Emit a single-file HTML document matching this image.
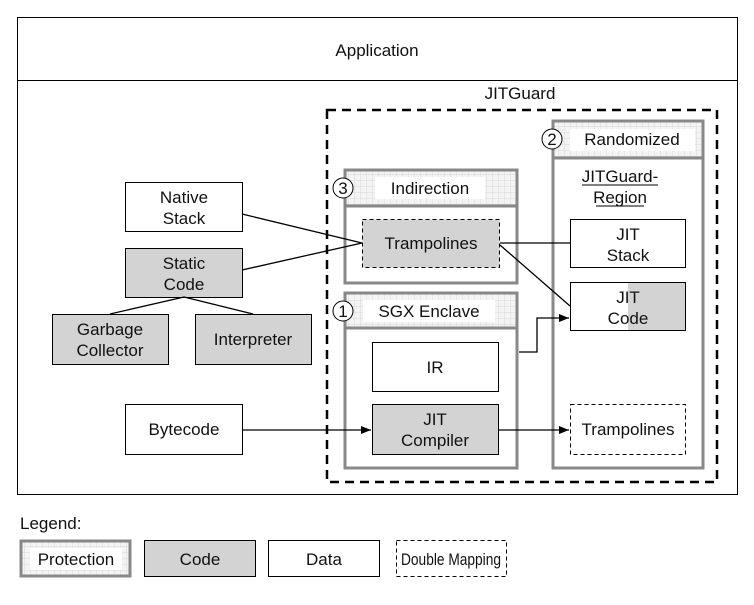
<!DOCTYPE html>
<html><head><style>body{margin:0;background:#fff}text{font-family:"Liberation Sans",sans-serif;font-size:17px;fill:#111}</style></head>
<body>
<svg width="754" height="600" viewBox="0 0 754 600" xmlns="http://www.w3.org/2000/svg">
<defs>
<pattern id="g" width="6" height="6" patternUnits="userSpaceOnUse"><rect width="6" height="6" fill="#f4f4f4"/><path d="M0 0H6M0 0V6" stroke="#d8d8d8" stroke-width="1"/></pattern>
<marker id="a" markerWidth="10" markerHeight="8" refX="10" refY="4" orient="auto" markerUnits="userSpaceOnUse"><path d="M0 0L10 4L0 8z" fill="#000"/></marker>
</defs>
<rect x="17.5" y="17.5" width="720" height="477" fill="#fff" stroke="#000"/>
<line x1="17" y1="80.5" x2="738" y2="80.5" stroke="#000"/>
<text x="377" y="56" text-anchor="middle">Application</text>
<text x="520" y="99" text-anchor="middle">JITGuard</text>
<rect x="327" y="110" width="390" height="372" fill="none" stroke="#000" stroke-width="2.5" stroke-dasharray="9,6"/>

<rect x="553" y="121" width="150" height="347" fill="#fff" stroke="#888" stroke-width="3"/>
<rect x="554.5" y="122.5" width="147" height="35" fill="url(#g)"/>
<line x1="553" y1="158" x2="703" y2="158" stroke="#888" stroke-width="3"/>
<rect x="570" y="129" width="125" height="22" fill="#fff"/>
<circle cx="552" cy="139" r="10" fill="#fff" stroke="#000"/><text x="552" y="145" text-anchor="middle">2</text>
<text x="632" y="145" text-anchor="middle">Randomized</text>
<text x="620" y="182" text-anchor="middle">JITGuard-</text>
<line x1="582" y1="185" x2="658" y2="185" stroke="#000"/>
<text x="620" y="203" text-anchor="middle">Region</text>
<line x1="596" y1="206" x2="644" y2="206" stroke="#000"/>
<rect x="570.5" y="219.5" width="115" height="48" fill="#fff" stroke="#000"/>
<text x="628" y="240" text-anchor="middle">JIT</text><text x="628" y="261" text-anchor="middle">Stack</text>
<rect x="570.5" y="282.5" width="115" height="48" fill="#fff" stroke="#000"/>
<rect x="628" y="283" width="57" height="47" fill="#d3d3d3"/>
<text x="628" y="303" text-anchor="middle">JIT</text><text x="628" y="324" text-anchor="middle">Code</text>
<rect x="570.5" y="404.5" width="115" height="50" fill="#fff" stroke="#000" stroke-dasharray="4,3"/>
<text x="628" y="435" text-anchor="middle">Trampolines</text>

<rect x="345" y="170" width="172" height="113" fill="#fff" stroke="#888" stroke-width="3"/>
<rect x="346.5" y="171.5" width="169" height="34" fill="url(#g)"/>
<line x1="345" y1="206" x2="517" y2="206" stroke="#888" stroke-width="3"/>
<rect x="375" y="177" width="110" height="22" fill="#fff"/>
<circle cx="343" cy="188" r="10" fill="#fff" stroke="#000"/><text x="343" y="194" text-anchor="middle">3</text>
<text x="430" y="194" text-anchor="middle">Indirection</text>
<rect x="362.5" y="219.5" width="137" height="48" fill="#d3d3d3" stroke="#000" stroke-dasharray="4,3"/>
<text x="431" y="249" text-anchor="middle">Trampolines</text>

<rect x="345" y="293" width="172" height="175" fill="#fff" stroke="#888" stroke-width="3"/>
<rect x="346.5" y="294.5" width="169" height="33" fill="url(#g)"/>
<line x1="345" y1="328" x2="517" y2="328" stroke="#888" stroke-width="3"/>
<rect x="363" y="300" width="132" height="22" fill="#fff"/>
<circle cx="343" cy="311" r="10" fill="#fff" stroke="#000"/><text x="343" y="317" text-anchor="middle">1</text>
<text x="429" y="317" text-anchor="middle">SGX Enclave</text>
<rect x="372.5" y="342.5" width="126" height="49" fill="#fff" stroke="#000"/>
<text x="435" y="373" text-anchor="middle">IR</text>
<rect x="372.5" y="404.5" width="126" height="50" fill="#d3d3d3" stroke="#000"/>
<text x="435" y="425" text-anchor="middle">JIT</text><text x="435" y="446" text-anchor="middle">Compiler</text>

<rect x="125.5" y="182.5" width="117" height="49" fill="#fff" stroke="#000"/>
<text x="184" y="203" text-anchor="middle">Native</text><text x="184" y="224" text-anchor="middle">Stack</text>
<rect x="125.5" y="248.5" width="117" height="49" fill="#d3d3d3" stroke="#000"/>
<text x="184" y="269" text-anchor="middle">Static</text><text x="184" y="290" text-anchor="middle">Code</text>
<rect x="52.5" y="314.5" width="116" height="50" fill="#d3d3d3" stroke="#000"/>
<text x="110" y="335" text-anchor="middle">Garbage</text><text x="110" y="356" text-anchor="middle">Collector</text>
<rect x="195.5" y="314.5" width="116" height="50" fill="#d3d3d3" stroke="#000"/>
<text x="253" y="345" text-anchor="middle">Interpreter</text>
<rect x="125.5" y="404.5" width="117" height="50" fill="#fff" stroke="#000"/>
<text x="184" y="435" text-anchor="middle">Bytecode</text>

<g stroke="#000" stroke-width="1.3" fill="none">
<path d="M242 214L362 243M242 270L362 243"/>
<path d="M184 297L110 314M184 297L253 314"/>
<path d="M242 430H371" marker-end="url(#a)"/>
<path d="M498 430H569" marker-end="url(#a)"/>
<path d="M519 352H537V318H569" marker-end="url(#a)"/>
<path d="M500 243H570M500 245L570 306"/>
</g>

<text x="20" y="529">Legend:</text>
<rect x="21" y="541" width="109" height="35" fill="url(#g)" stroke="#888" stroke-width="3"/>
<rect x="30" y="548" width="92" height="22" fill="#fff"/>
<text x="76" y="565" text-anchor="middle">Protection</text>
<rect x="144.5" y="540.5" width="111" height="36" fill="#d3d3d3" stroke="#000"/>
<text x="200" y="565" text-anchor="middle">Code</text>
<rect x="268.5" y="540.5" width="111" height="36" fill="#fff" stroke="#000"/>
<text x="324" y="565" text-anchor="middle">Data</text>
<rect x="396.5" y="540.5" width="110" height="36" fill="#fff" stroke="#000" stroke-dasharray="4,3"/>
<text x="401" y="565" textLength="100" lengthAdjust="spacingAndGlyphs">Double Mapping</text>
</svg>
</body></html>
